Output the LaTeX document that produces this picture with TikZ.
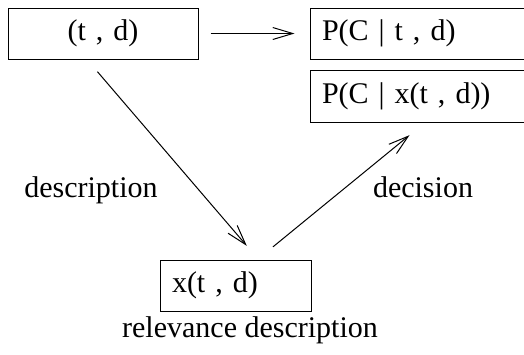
\documentclass[tikz,border=0pt]{standalone}
\usepackage{fontspec}
\setmainfont{Liberation Serif}
\usetikzlibrary{positioning,arrows.meta,calc}
\tikzset{
  box/.style={draw=black, line width=1pt, rectangle, inner xsep=12pt,
    minimum height=51pt, font=\fontsize{30}{36}\selectfont},
  arr/.style={line width=1pt, draw=black,
    -{Straight Barb[length=20pt,width=12pt,line width=1pt]}},
  lbl/.style={font=\fontsize{30}{36}\selectfont, anchor=base, inner sep=0pt}
}

\begin{document}
\begin{tikzpicture}[x=1pt,y=-1pt]
  \useasboundingbox (0,0) rectangle (524,354);
  \node[box, text width=166pt, align=center] (td) at (103,33.5) {(t , d)};
  \node[box, text width=206pt, align=left] (pcond) at (425,33.5) {P(C | t , d)};
  \node[box, text width=206pt, align=left, minimum height=52pt] (pdec) at (425,96) {P(C | x(t , d))};
  \node[box, text width=127pt, align=left] (xtd) at (235.5,285.5) {x(t , d)};
  \draw[arr, shorten <=12pt, shorten >=15pt] (td.east) -- (pcond.west);
  \draw[arr, shorten <=16pt, shorten >=18pt] ([xshift=-16pt]td.south) -- ([xshift=23pt]xtd.north);
  \draw[arr, shorten <=20pt, shorten >=20pt] ([xshift=22pt]xtd.north) -- (pdec.south);
  \node[lbl] (descr) at (91,197) {description};
  \node[lbl] (decis) at (423,197) {decision};
  \node[lbl] (relev) at (250,337) {relevance description};
\end{tikzpicture}
\end{document}
